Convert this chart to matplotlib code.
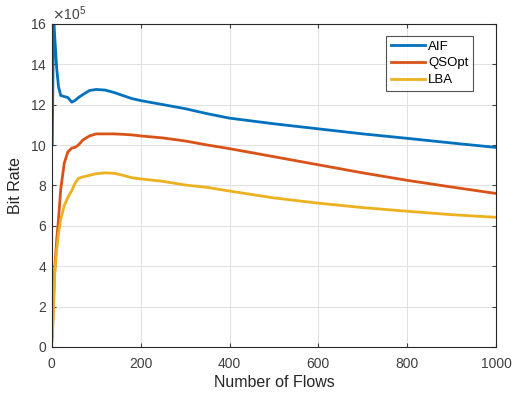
#!/usr/bin/env python3
"""Bit rate versus number of flows for AIF, QSOpt and LBA."""

import matplotlib.pyplot as plt
from matplotlib.ticker import ScalarFormatter

plt.rcParams["font.family"] = ["Liberation Sans", "DejaVu Sans"]

SCALE = 1e5
FLOWS = [1, 4, 7, 11, 15, 20, 28, 36, 45, 52, 60, 70, 85, 100, 120, 140, 160,
         180, 200, 250, 300, 350, 400, 500, 600, 700, 800, 900, 1000]
AIF = [10.0, 16.4, 15.2, 13.8, 12.9, 12.45, 12.4, 12.35, 12.12, 12.2, 12.35,
       12.5, 12.7, 12.75, 12.72, 12.6, 12.45, 12.3, 12.2, 12.0, 11.8, 11.55,
       11.33, 11.05, 10.8, 10.55, 10.33, 10.1, 9.88]
QSOPT = [0.5, 2.5, 4.0, 5.3, 6.3, 7.8, 9.1, 9.65, 9.85, 9.88, 10.0, 10.25,
         10.45, 10.55, 10.55, 10.55, 10.53, 10.5, 10.45, 10.35, 10.2, 10.0,
         9.82, 9.42, 9.02, 8.62, 8.25, 7.92, 7.6]
LBA = [0.3, 2.0, 3.8, 4.8, 5.6, 6.3, 7.0, 7.4, 7.75, 8.1, 8.35, 8.42, 8.5,
       8.58, 8.62, 8.6, 8.5, 8.38, 8.32, 8.2, 8.02, 7.9, 7.72, 7.38, 7.12,
       6.9, 6.72, 6.55, 6.42]

SERIES = [("AIF", AIF, "#0072BD"), ("QSOpt", QSOPT, "#D95319"),
          ("LBA", LBA, "#EDB120")]


def main() -> None:
    fig = plt.figure(figsize=(5.13, 3.97), dpi=100)
    ax = fig.add_axes([0.101, 0.126, 0.866, 0.814])

    for name, values, color in SERIES:
        ax.plot(FLOWS, [v * SCALE for v in values], color=color,
                linewidth=2, label=name)

    ax.set_xlim(0, 1000)
    ax.set_ylim(0, 16 * SCALE)
    ax.set_xticks(range(0, 1001, 200))
    ax.set_yticks([v * SCALE for v in range(0, 17, 2)])

    fmt = ScalarFormatter(useMathText=True)
    fmt.set_powerlimits((5, 5))
    ax.yaxis.set_major_formatter(fmt)
    ax.yaxis.get_offset_text().set_fontsize(10)
    ax.yaxis.get_offset_text().set_color("#404040")

    ax.tick_params(direction="in", top=True, right=True, labelsize=10,
                   colors="#404040", length=3)
    ax.tick_params(axis="x", pad=7)
    for spine in ax.spines.values():
        spine.set_color("#262626")
        spine.set_linewidth(0.8)
    ax.grid(True, color="#e0e0e0", linewidth=0.7)
    ax.set_axisbelow(True)

    ax.set_xlabel("Number of Flows", fontsize=11.5, color="#262626",
                  labelpad=3)
    ax.set_ylabel("Bit Rate", fontsize=11.5, color="#262626", labelpad=5)

    leg = ax.legend(loc="upper right", bbox_to_anchor=(0.948, 0.963),
                    fontsize=9.5, fancybox=False, edgecolor="#262626",
                    handlelength=2.6, borderpad=0.35, labelspacing=0.35,
                    handletextpad=0.2, borderaxespad=0)
    leg.get_frame().set_linewidth(0.8)

    fig.savefig("out.png", dpi=100)


if __name__ == "__main__":
    main()
